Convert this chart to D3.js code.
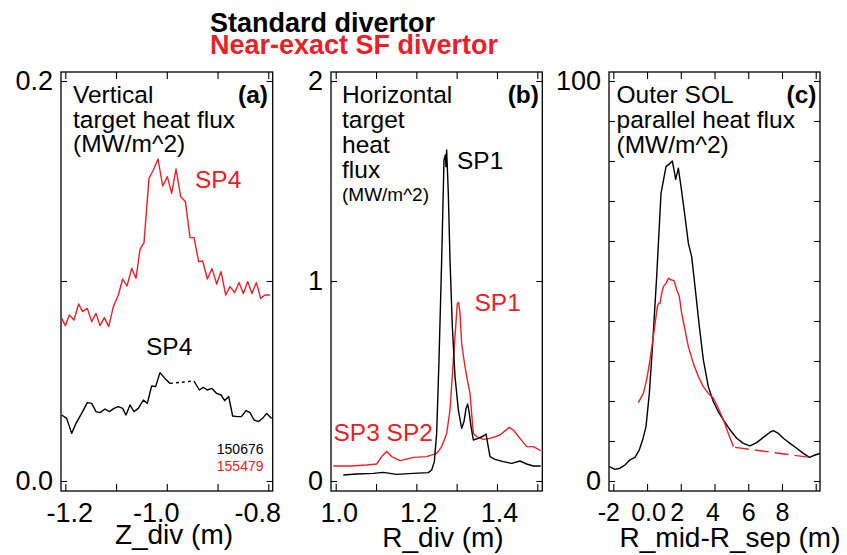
<!DOCTYPE html>
<html>
<head>
<meta charset="utf-8">
<script src="https://cdn.jsdelivr.net/npm/d3@7"></script>
<style>
  body { margin: 0; background: #fff; }
  svg text { font-family: "Liberation Sans", Arial, Helvetica, sans-serif; }
</style>
</head>
<body>
<script>

var RED = "#e8202a";

// panel (a): vertical target heat flux vs Z_div
var aStdPart1 = [[-1.2072,0.0330],[-1.1973,0.0313],[-1.1875,0.0238],[-1.1789,0.0288],[-1.1678,0.0338],
    [-1.1566,0.0392],[-1.1480,0.0388],[-1.1395,0.0347],[-1.1316,0.0342],[-1.1218,0.0360],[-1.1132,0.0347],
    [-1.1040,0.0363],[-1.0955,0.0372],[-1.0870,0.0363],[-1.0804,0.0330],[-1.0725,0.0380],[-1.0647,0.0347],
    [-1.0561,0.0363],[-1.0463,0.0405],[-1.0384,0.0388],[-1.0299,0.0475],[-1.0220,0.0472],[-1.0134,0.0542],
    [-1.0036,0.0513],[-0.9937,0.0488]];
var aStdPart2 = [[-0.9464,0.0500],[-0.9359,0.0455],[-0.9281,0.0468],[-0.9201,0.0455],[-0.9109,0.0463],
    [-0.9017,0.0438],[-0.8931,0.0430],[-0.8859,0.0402],[-0.8780,0.0422],[-0.8702,0.0325],[-0.8610,0.0322],
    [-0.8531,0.0322],[-0.8439,0.0352],[-0.8360,0.0342],[-0.8281,0.0305],[-0.8189,0.0297],[-0.8097,0.0318],
    [-0.8032,0.0338],[-0.7933,0.0313]];
var aSF = [[-1.2072,0.0813],[-1.1999,0.0777],[-1.1920,0.0830],[-1.1829,0.0805],[-1.1737,0.0885],
    [-1.1658,0.0847],[-1.1566,0.0863],[-1.1480,0.0797],[-1.1395,0.0838],[-1.1316,0.0777],[-1.1231,0.0817],
    [-1.1145,0.0772],[-1.1053,0.0872],[-1.0955,0.0930],[-1.0870,0.1010],[-1.0784,0.0975],[-1.0692,0.1063],
    [-1.0607,0.1013],[-1.0528,0.1158],[-1.0449,0.1192],[-1.0351,0.1513],[-1.0265,0.1555],[-1.0173,0.1610],
    [-1.0081,0.1475],[-0.9989,0.1522],[-0.9904,0.1438],[-0.9818,0.1560],[-0.9726,0.1422],[-0.9634,0.1397],
    [-0.9542,0.1217],[-0.9464,0.1217],[-0.9372,0.1097],[-0.9293,0.1100],[-0.9201,0.1010],[-0.9109,0.1062],
    [-0.9017,0.0985],[-0.8931,0.1047],[-0.8839,0.0930],[-0.8754,0.0972],[-0.8662,0.0942],[-0.8577,0.0993],
    [-0.8491,0.0938],[-0.8406,0.0997],[-0.8321,0.0938],[-0.8235,0.0992],[-0.8150,0.0913],[-0.8065,0.0930],
    [-0.7967,0.0930]];

// panel (b): horizontal target heat flux vs R_div
var bStd = [[1.0189,0.030],[1.0520,0.035],[1.0933,0.038],[1.1181,0.043],[1.1512,0.033],[1.1925,0.038],
    [1.2297,0.042],[1.2380,0.055],[1.2446,0.097],[1.2504,0.238],[1.2562,0.605],[1.2628,1.105],[1.2686,1.605],
    [1.2719,1.630],[1.2735,1.572],[1.2752,1.655],[1.2793,1.438],[1.2835,1.105],[1.2893,0.772],[1.2959,0.522],
    [1.3042,0.355],[1.3124,0.263],[1.3182,0.297],[1.3232,0.363],[1.3273,0.385],[1.3314,0.338],[1.3356,0.272],
    [1.3414,0.205],[1.3538,0.213],[1.3662,0.225],[1.3728,0.235],[1.3769,0.188],[1.3827,0.122],[1.3951,0.108],
    [1.4158,0.097],[1.4365,0.088],[1.4571,0.100],[1.4737,0.085],[1.4902,0.075],[1.5084,0.075]];
var bSF = [[0.9942,0.075],[1.0355,0.075],[1.0769,0.080],[1.1017,0.085],[1.1141,0.122],[1.1265,0.147],
    [1.1389,0.122],[1.1596,0.102],[1.1926,0.118],[1.2257,0.122],[1.2505,0.138],[1.2629,0.172],[1.2753,0.238],
    [1.2835,0.355],[1.2918,0.605],[1.2976,0.772],[1.3017,0.888],[1.3050,0.892],[1.3083,0.838],[1.3124,0.688],
    [1.3182,0.605],[1.3248,0.522],[1.3331,0.438],[1.3372,0.338],[1.3414,0.238],[1.3496,0.222],[1.3662,0.208],
    [1.3827,0.213],[1.4075,0.230],[1.4307,0.268],[1.4406,0.255],[1.4571,0.213],[1.4737,0.172],[1.4902,0.172],
    [1.5084,0.152]];

// panel (c): outer SOL parallel heat flux vs R_mid-R_sep
var cStd = [[-2.235,3.6],[-1.898,2.9],[-1.601,3.2],[-1.306,4.0],[-1.011,5.3],[-0.714,5.9],[-0.457,7.8],
    [-0.259,10.3],[-0.061,13.6],[0.136,21.9],[0.334,34.4],[0.571,51.1],[0.828,71.9],[1.125,78.6],[1.362,79.4],
    [1.500,80.0],[1.599,77.8],[1.698,75.4],[1.856,78.2],[2.014,73.6],[2.251,66.1],[2.451,59.4],[2.646,56.1],
    [2.844,48.6],[3.101,38.6],[3.338,30.3],[3.634,23.6],[3.931,19.8],[4.227,17.3],[4.524,15.3],[4.919,12.8],
    [5.314,10.7],[5.709,9.4],[6.105,8.8],[6.500,9.6],[6.895,10.9],[7.290,12.2],[7.488,12.6],[7.784,11.9],
    [8.081,10.7],[8.476,9.4],[8.871,8.2],[9.267,6.9],[9.623,5.9],[9.959,6.5],[10.255,6.9]];
var cSF = [[-0.516,19.6],[-0.219,21.9],[-0.022,25.3],[0.176,30.3],[0.374,36.1],[0.611,43.6],[0.690,44.4],
    [0.769,44.4],[0.868,46.9],[0.966,48.6],[1.125,49.4],[1.267,50.7],[1.405,50.3],[1.599,50.1],[1.757,47.8],
    [1.915,46.1],[2.054,41.9],[2.251,37.8],[2.449,33.6],[2.745,29.4],[3.042,26.1],[3.338,23.6],[3.634,21.9],
    [3.931,20.7],[4.227,18.2],[4.524,15.3],[4.820,11.9],[5.116,8.6]];
var cSFfit = [[5.215,8.4],[9.662,5.9]];

// axis ticks and labels
var aXTicks = [-1.2, -1.1, -1.0, -0.9, -0.8];
var aXLabels = {"-1.2": "-1.2", "-1": "-1.0", "-0.8": "-0.8"};
var aYTicks = [0, 0.1, 0.2];
var aYLabels = {"0": "0.0", "0.2": "0.2"};
var bXTicks = [1.0, 1.1, 1.2, 1.3, 1.4, 1.5];
var bXLabels = {"1": "1.0", "1.2": "1.2", "1.4": "1.4"};
var bYTicks = [0, 1, 2];
var bYLabels = {"0": "0", "1": "1", "2": "2"};
var cXTicks = [-2, 0, 2, 4, 6, 8, 10];
var cXLabels = {"-2": "-2", "0": "0.0", "2": "2", "4": "4", "6": "6", "8": "8"};
var cYTicks = [0, 10, 20, 30, 40, 50, 60, 70, 80, 90, 100];
var cYLabels = {"0": "0", "100": "100"};

var w = 847, h = 555;
var svg = d3.select("body").append("svg")
    .attr("width", w)
    .attr("height", h);

svg.append("text").attr("x", 210).attr("y", 31.5)
    .attr("font-size", 27).attr("font-weight", "bold").attr("fill", "black")
    .text("Standard divertor");
svg.append("text").attr("x", 210).attr("y", 53.5)
    .attr("font-size", 27).attr("font-weight", "bold").attr("fill", RED)
    .text("Near-exact SF divertor");

var plotTop = 72, plotBottom = 491;

function fmt(map) {
    return function(d) {
        var k = String(+d.toFixed(4));
        return map[k] !== undefined ? map[k] : "";
    };
}

function panel(p) {
    var x = d3.scaleLinear().domain(p.xDomain).range([p.left, p.right]);
    var y = d3.scaleLinear().domain(p.yDomain).range([plotBottom, plotTop]);
    var g = svg.append("g");

    var clipId = "clip" + p.id;
    g.append("clipPath").attr("id", clipId)
        .append("rect")
        .attr("x", p.left).attr("y", plotTop)
        .attr("width", p.right - p.left).attr("height", plotBottom - plotTop);

    var xb = g.append("g").attr("transform", "translate(0," + plotBottom + ")")
        .call(d3.axisBottom(x).tickValues(p.xTicks).tickSize(-7).tickPadding(12).tickFormat(fmt(p.xLabels)));
    var xt = g.append("g").attr("transform", "translate(0," + plotTop + ")")
        .call(d3.axisTop(x).tickValues(p.xTicks).tickSize(-7).tickFormat(""));
    var yl = g.append("g").attr("transform", "translate(" + p.left + ",0)")
        .call(d3.axisLeft(y).tickValues(p.yTicks).tickSize(-6).tickPadding(8).tickFormat(fmt(p.yLabels)));
    var yr = g.append("g").attr("transform", "translate(" + p.right + ",0)")
        .call(d3.axisRight(y).tickValues(p.yTicks).tickSize(-6).tickFormat(""));

    [xb, xt, yl, yr].forEach(function(a) {
        a.select(".domain").remove();
        a.selectAll("line").attr("stroke", "black").attr("stroke-width", 1.1);
        a.selectAll("text").attr("font-size", 27).attr("fill", "black")
            .attr("font-family", "'Liberation Sans', Arial, Helvetica, sans-serif");
    });
    if (p.xLabelSize) {
        xb.selectAll(".tick text").attr("font-size", p.xLabelSize);
    }
    if (p.xLabelShift) {
        xb.selectAll(".tick text").attr("dx", function(d, i) { return p.xLabelShift[i]; });
    }

    g.append("rect")
        .attr("x", p.left).attr("y", plotTop)
        .attr("width", p.right - p.left).attr("height", plotBottom - plotTop)
        .attr("fill", "none").attr("stroke", "black").attr("stroke-width", 1.3);

    var line = d3.line()
        .x(function(d) { return x(d[0]); })
        .y(function(d) { return y(d[1]); });

    var curves = g.append("g").attr("clip-path", "url(#" + clipId + ")");
    p.series.forEach(function(s) {
        curves.append("path")
            .datum(s.data)
            .attr("d", line)
            .attr("fill", "none")
            .attr("stroke", s.color)
            .attr("stroke-width", 1.4)
            .attr("stroke-linejoin", "round")
            .attr("stroke-dasharray", s.dash || null);
    });

    p.notes.forEach(function(t) {
        g.append("text")
            .attr("x", t.x).attr("y", t.y)
            .attr("font-size", t.size || 24.5)
            .attr("font-weight", t.bold ? "bold" : null)
            .attr("text-anchor", t.anchor || "start")
            .attr("fill", t.color || "black")
            .text(t.text);
    });

    g.append("text")
        .attr("x", p.titleX).attr("y", p.titleY)
        .attr("font-size", 28)
        .attr("text-anchor", "middle")
        .text(p.xTitle);
}

panel({
    id: "a", left: 61, right: 272.7,
    xDomain: [-1.2085, -0.7913], yDomain: [-0.005, 0.2045],
    xTicks: aXTicks, xLabels: aXLabels, yTicks: aYTicks, yLabels: aYLabels,
    xLabelShift: [4, 0, -11, 0, -11],
    series: [
        {data: aSF, color: RED},
        {data: aStdPart1, color: "black"},
        {data: [aStdPart1[aStdPart1.length - 1], aStdPart2[0]], color: "black", dash: "3,3"},
        {data: aStdPart2, color: "black"}
    ],
    notes: [
        {x: 73, y: 103, text: "Vertical"},
        {x: 73, y: 128, text: "target heat flux"},
        {x: 73, y: 152, text: "(MW/m^2)"},
        {x: 268, y: 103, text: "(a)", bold: true, anchor: "end"},
        {x: 195, y: 188, text: "SP4", color: RED},
        {x: 146, y: 355, text: "SP4"},
        {x: 263.5, y: 454, text: "150676", size: 14, anchor: "end"},
        {x: 263.5, y: 470.5, text: "155479", size: 14, anchor: "end", color: RED}
    ],
    xTitle: "Z_div (m)", titleX: 174, titleY: 544
});

panel({
    id: "b", left: 331, right: 542.3,
    xDomain: [0.98834, 1.5124], yDomain: [-0.05, 2.045],
    xTicks: bXTicks, xLabels: bXLabels, yTicks: bYTicks, yLabels: bYLabels,
    xLabelShift: [3, 0, 2, 0, 2, 0],
    series: [
        {data: bSF, color: RED},
        {data: bStd, color: "black"}
    ],
    notes: [
        {x: 342, y: 103, text: "Horizontal"},
        {x: 342, y: 128, text: "target"},
        {x: 342, y: 152.5, text: "heat"},
        {x: 342, y: 177.5, text: "flux"},
        {x: 342, y: 201, text: "(MW/m^2)", size: 19},
        {x: 539, y: 103, text: "(b)", bold: true, anchor: "end"},
        {x: 457, y: 168.5, text: "SP1"},
        {x: 474.5, y: 311, text: "SP1", color: RED},
        {x: 333.5, y: 441, text: "SP3 SP2", color: RED}
    ],
    xTitle: "R_div (m)", titleX: 443, titleY: 547
});

panel({
    id: "c", left: 609, right: 820,
    xDomain: [-2.255, 10.253], yDomain: [-2.5, 102.25],
    xTicks: cXTicks, xLabels: cXLabels, yTicks: cYTicks, yLabels: cYLabels,
    xLabelSize: 25,
    xLabelShift: [-5, 1, -4, -2, 0, 0, 0],
    series: [
        {data: cStd, color: "black"},
        {data: cSF, color: RED},
        {data: cSFfit, color: RED, dash: "14,6"}
    ],
    notes: [
        {x: 616.5, y: 103, text: "Outer SOL"},
        {x: 616.5, y: 128, text: "parallel heat flux"},
        {x: 616.5, y: 152.5, text: "(MW/m^2)"},
        {x: 816.5, y: 103, text: "(c)", bold: true, anchor: "end"}
    ],
    xTitle: "R_mid-R_sep (m)", titleX: 730, titleY: 547
});

</script>
</body>
</html>
